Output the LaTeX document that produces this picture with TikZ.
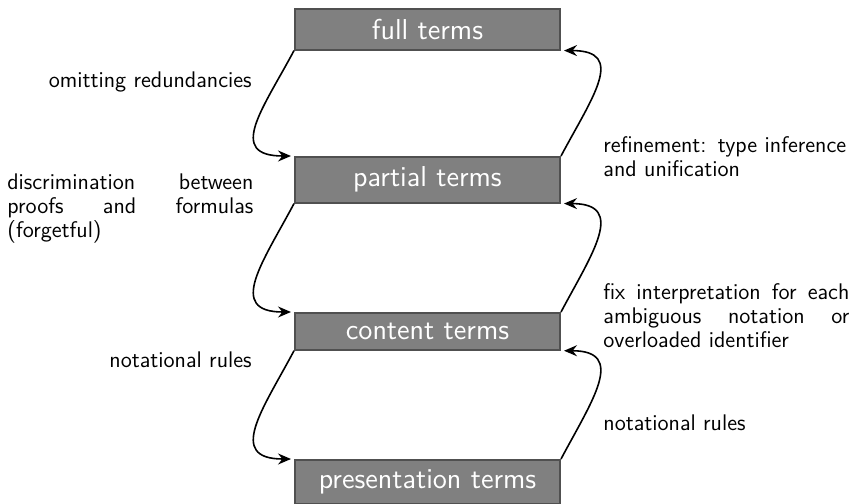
\documentclass[tikz,border=0pt]{standalone}
\usetikzlibrary{arrows.meta}
\definecolor{boxfill}{RGB}{128,128,128}
\definecolor{boxborder}{RGB}{80,80,80}
\begin{document}
\begin{tikzpicture}[x=0.5pt,y=-0.5pt,
  termbox/.style={draw=boxborder, fill=boxfill, line width=1pt, text=white,
    font=\sffamily\fontsize{14.4}{17}\selectfont, minimum width=132.5pt,
    inner xsep=0pt, inner ysep=5pt, anchor=north},
  lab/.style={font=\sffamily\fontsize{11.3}{12}\selectfont, inner sep=0pt},
  blocklab/.style={lab, text width=123pt, align=left},
  flow/.style={-{Stealth[length=6.5pt,width=5.5pt,inset=2.2pt]}, line width=0.8pt, shorten >=1.5pt}]
\useasboundingbox (0,0) rectangle (850,503);

\node[termbox] (full) at (427.5,8) {full terms};
\node[termbox] (partial) at (427.5,156) {partial terms};
\node[termbox] (content) at (427.5,312) {content terms};
\node[termbox] (pres) at (427.5,459) {presentation terms};

% downward arrows (left)
\draw[flow] (full.south west) .. controls +(-118:33pt) and +(180:34pt) .. (partial.north west);
\draw[flow] (partial.south west) .. controls +(-118:33pt) and +(180:34pt) .. (content.north west);
\draw[flow] (content.south west) .. controls +(-118:33pt) and +(180:34pt) .. (pres.north west);

% upward arrows (right)
\draw[flow] (partial.north east) .. controls +(62:33pt) and +(0:33pt) .. (full.south east);
\draw[flow] (content.north east) .. controls +(62:33pt) and +(0:33pt) .. (partial.south east);
\draw[flow] (pres.north east) .. controls +(62:33pt) and +(0:33pt) .. (content.south east);

% labels left
\node[lab, anchor=base east] (l1) at (252,87) {omitting redundancies};
\node[blocklab, anchor=base west] (l2) at (7,189) {discrimination\hfill between\\ proofs\hfill and\hfill formulas\\ (forgetful)};
\node[lab, anchor=base east] (l3) at (252,367) {notational rules};

% labels right
\node[blocklab, anchor=base west] (r1) at (603,152) {\mbox{refinement: type inference}\\ and unification};
\node[blocklab, anchor=base west] (r2) at (603,299) {fix\hfill interpretation\hfill for\hfill each\\ ambiguous\hfill notation\hfill or\\ overloaded identifier};
\node[lab, anchor=base west] (r3) at (603,430) {notational rules};
\end{tikzpicture}
\end{document}
